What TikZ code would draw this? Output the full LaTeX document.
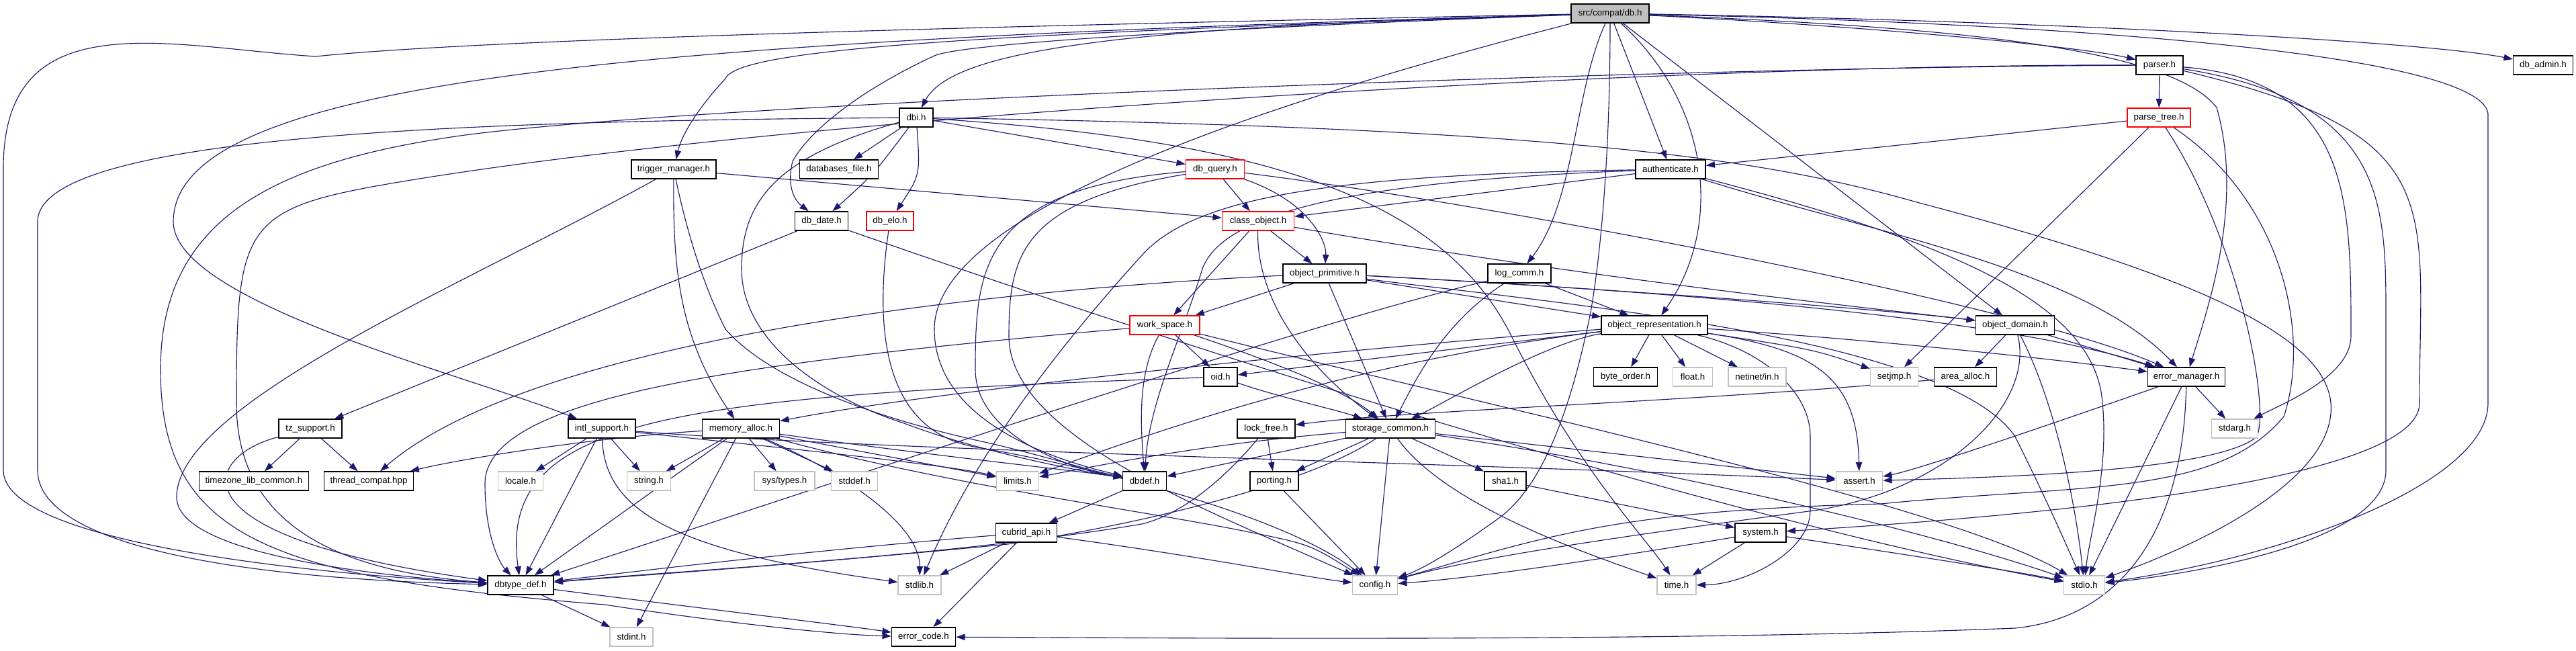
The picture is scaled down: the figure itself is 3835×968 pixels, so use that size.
\documentclass[tikz,border=0pt]{standalone}
\usepackage{fontspec}
\setmainfont{Liberation Sans}
\usetikzlibrary{arrows.meta,backgrounds}
\definecolor{eb}{RGB}{25,25,112}
\definecolor{gb}{RGB}{191,191,191}
\definecolor{rb}{RGB}{255,0,0}
\tikzset{
  nd/.style={draw=black, line width=1pt, fill=white, minimum height=21pt, inner xsep=1pt, inner ysep=0pt, font=\fontsize{10}{12}\selectfont},
  rd/.style={nd, draw=rb},
  gd/.style={nd, draw=gb},
  e/.style={draw=eb, line width=0.85pt, -{Triangle[length=10pt,width=7pt]}},
}
\begin{document}
\begin{tikzpicture}[x=0.75pt,y=-0.75pt]
% nodes
\node[nd, fill=gb, minimum width=87pt] (dbh) at (2397,20) {src/compat/db.h};
\node[nd, minimum width=52.5pt] (parser) at (3215,97) {parser.h};
\node[nd, minimum width=66.75pt] (dbadmin) at (3786,97) {db\_admin.h};
\node[nd, minimum width=37.5pt] (dbi) at (1364,175) {dbi.h};
\node[rd, minimum width=70.5pt] (parsetree) at (3214,175) {parse\_tree.h};
\node[nd, minimum width=94.5pt] (trigger) at (1003,252) {trigger\_manager.h};
\node[nd, minimum width=87.75pt] (dbfile) at (1249,252) {databases\_file.h};
\node[rd, minimum width=65.25pt] (dbquery) at (1809,252) {db\_query.h};
\node[nd, minimum width=78pt] (auth) at (2487,252) {authenticate.h};
\node[nd, minimum width=59.25pt] (dbdate) at (1223,329) {db\_date.h};
\node[rd, minimum width=52.5pt] (dbelo) at (1325,329) {db\_elo.h};
\node[rd, minimum width=80.25pt] (classobj) at (1873,329) {class\_object.h};
\node[nd, minimum width=93pt] (objprim) at (1972,407) {object\_primitive.h};
\node[nd, minimum width=70.5pt] (logcomm) at (2262,407) {log\_comm.h};
\node[rd, minimum width=78pt] (workspace) at (1734,484) {work\_space.h};
\node[nd, minimum width=118.5pt] (objrep) at (2463,484) {object\_representation.h};
\node[nd, minimum width=87.75pt] (objdom) at (3000,484) {object\_domain.h};
\node[nd, minimum width=37.5pt] (oid) at (1817,561) {oid.h};
\node[nd, minimum width=71.25pt] (byteorder) at (2420,561) {byte\_order.h};
\node[gd, minimum width=44.25pt] (float) at (2520,561) {float.h};
\node[gd, minimum width=64.5pt] (netinet) at (2616,561) {netinet/in.h};
\node[gd, minimum width=53.25pt] (setjmp) at (2820,561) {setjmp.h};
\node[nd, minimum width=69.75pt] (areaalloc) at (2926,561) {area\_alloc.h};
\node[nd, minimum width=86.25pt] (errmgr) at (3255,561) {error\_manager.h};
\node[nd, minimum width=70.5pt] (tzsupport) at (462,638) {tz\_support.h};
\node[nd, minimum width=75pt] (intl) at (896,638) {intl\_support.h};
\node[nd, minimum width=86.25pt] (memalloc) at (1103,638) {memory\_alloc.h};
\node[nd, minimum width=64.5pt] (lockfree) at (1885,638) {lock\_free.h};
\node[nd, minimum width=99.75pt] (storage) at (2070,638) {storage\_common.h};
\node[gd, minimum width=51.75pt] (stdarg) at (3327,638) {stdarg.h};
\node[nd, minimum width=122.25pt] (tzlib) at (378,716) {timezone\_lib\_common.h};
\node[nd, minimum width=99.75pt] (threadcompat) at (549,716) {thread\_compat.hpp};
\node[gd, minimum width=50.25pt] (locale) at (775,716) {locale.h};
\node[gd, minimum width=48.75pt] (string) at (966,716) {string.h};
\node[gd, minimum width=67.5pt] (systypes) at (1168,716) {sys/types.h};
\node[gd, minimum width=51.75pt] (stddef) at (1272,716) {stddef.h};
\node[gd, minimum width=47.25pt] (limits) at (1515,716) {limits.h};
\node[nd, minimum width=48.75pt] (dbdef) at (1704,716) {dbdef.h};
\node[nd, minimum width=54pt] (porting) at (1897,716) {porting.h};
\node[nd, minimum width=46.5pt] (sha1) at (2241,716) {sha1.h};
\node[gd, minimum width=51.75pt] (assert) at (2768,716) {assert.h};
\node[nd, minimum width=68.25pt] (cubridapi) at (1528,793) {cubrid\_api.h};
\node[nd, minimum width=57pt] (system) at (2621,793) {system.h};
\node[nd, minimum width=73.5pt] (dbtypedef) at (775,871) {dbtype\_def.h};
\node[gd, minimum width=48pt] (stdlib) at (1369,871) {stdlib.h};
\node[gd, minimum width=50.25pt] (config) at (2047,871) {config.h};
\node[gd, minimum width=43.5pt] (time) at (2496,871) {time.h};
\node[gd, minimum width=45.75pt] (stdio) at (3103,871) {stdio.h};
\node[gd, minimum width=48pt] (stdint) at (940,948) {stdint.h};
\node[nd, minimum width=71.25pt] (errcode) at (1375,948) {error\_code.h};
% ---- edges ----
\begin{scope}[on background layer]
\path[use as bounding box, fill=white] (0,0) rectangle (3835,968);
% db.h
\draw[e] (dbh) .. controls (1700,40) and (1420,70) .. (dbi);
\draw[e] (dbh) .. controls (1500,50) and (1100,70) .. (1080,117) .. controls (1040,160) and (1015,200) .. (trigger);
\draw[e] (dbh) .. controls (1800,42) and (1430,65) .. (1391,83) .. controls (1283,133) and (1206,193) .. (1180,240) .. controls (1170,280) and (1185,300) .. (dbdate);
\draw[e] (dbh) .. controls (1000,60) and (258,110) .. (258,330) .. controls (258,450) and (700,560) .. (intl);
\draw[e] (dbh) .. controls (1400,40) and (700,60) .. (470,84) .. controls (250,70) and (5,0) .. (5,250) -- (5,700) .. controls (5,800) and (400,850) .. (dbtypedef);
\draw[e] (dbh) .. controls (1700,200) and (1391,350) .. (1391,490) .. controls (1391,620) and (1550,680) .. (dbdef);
\draw[e] (dbh) .. controls (2397,250) and (2380,400) .. (2367,470) .. controls (2340,600) and (2300,720) .. (2233,770) .. controls (2150,830) and (2110,850) .. (config);
\draw[e] (dbh) .. controls (2345,130) and (2345,300) .. (logcomm);
\draw[e] (dbh) -- (auth);
\draw[e] (dbh) .. controls (2540,150) and (2570,330) .. (objrep);
\draw[e] (dbh) -- (objdom);
\draw[e] (dbh) .. controls (2900,40) and (3230,70) .. (3300,160) .. controls (3340,300) and (3290,450) .. (errmgr);
\draw[e] (dbh) .. controls (2800,40) and (3100,70) .. (parser);
\draw[e] (dbh) .. controls (3000,30) and (3600,60) .. (dbadmin);
\draw[e] (dbh) .. controls (3300,40) and (3700,100) .. (3704,170) -- (3704,600) .. controls (3704,720) and (3400,830) .. (stdio);
% dbi
\draw[e] (dbi) -- (dbfile);
\draw[e] (dbi) .. controls (1300,260) .. (dbdate);
\draw[e] (dbi) .. controls (1370,260) .. (dbelo);
\draw[e] (dbi) -- (dbquery);
\draw[e] (dbi) .. controls (700,180) and (56,200) .. (56,330) -- (56,700) .. controls (56,800) and (300,860) .. (dbtypedef);
\draw[e] (dbi) .. controls (1155,233) and (1104,300) .. (1104,400) .. controls (1104,520) and (1250,600) .. (1346,630) .. controls (1450,670) and (1600,700) .. (dbdef);
\draw[e] (dbi) .. controls (2300,190) and (2615,233) .. (2850,300) .. controls (3229,400) and (3460,490) .. (3470,600) .. controls (3480,720) and (3250,820) .. (stdio);
\draw[e] (dbi) .. controls (1900,210) and (2150,300) .. (2250,500) .. controls (2350,700) and (2450,800) .. (time);
% parser
\draw[e] (parser) -- (parsetree);
\draw[e] (parser) .. controls (3500,120) and (3500,300) .. (3500,500) .. controls (3500,560) and (3400,600) .. (stdarg);
\draw[e] (parser) .. controls (3550,150) and (3552,300) .. (3552,470) -- (3552,700) .. controls (3552,800) and (3300,850) .. (stdio);
\draw[e] (parser) .. controls (3650,200) and (3602,300) .. (3602,600) .. controls (3602,720) and (3000,770) .. (system);
\draw[e] (parser) .. controls (2500,95) and (1200,170) .. (600,270) .. controls (360,310) and (352,330) .. (352,600) .. controls (352,780) and (500,850) .. (dbtypedef);
\draw[e] (parser) .. controls (2500,100) and (1100,150) .. (700,200) .. controls (400,240) and (239,330) .. (239,550) .. controls (239,800) and (400,860) .. (900,900) .. controls (1100,930) and (1250,945) .. (errcode);
% parse_tree
\draw[e] (parsetree) -- (auth);
\draw[e] (parsetree) -- (setjmp);
\draw[e] (parsetree) .. controls (3330,350) and (3380,600) .. (3360,650) .. controls (3300,700) and (3000,710) .. (assert);
\draw[e] (parsetree) .. controls (3400,300) and (3440,500) .. (3400,620) .. controls (3300,740) and (3100,720) .. (2800,750) .. controls (2400,760) and (2300,800) .. (config);
% trigger
\draw[e] (trigger) -- (classobj);
\draw[e] (trigger) .. controls (1002,400) and (1010,500) .. (memalloc);
\draw[e] (trigger) .. controls (700,420) and (263,600) .. (263,740) .. controls (263,830) and (600,860) .. (dbtypedef);
\draw[e] (trigger) .. controls (1030,380) and (1060,450) .. (1080,490) .. controls (1150,570) and (1320,627) .. (1475,660) .. controls (1560,680) and (1620,700) .. (dbdef);
% db_date, db_elo
\draw[e] (dbdate) -- (tzsupport);
\draw[e] (dbdate) .. controls (2000,600) and (2700,800) .. (stdio);
\draw[e] (dbelo) .. controls (1300,500) and (1320,640) .. (1450,665) .. controls (1600,690) and (1900,760) .. (config);
% db_query
\draw[e] (dbquery) -- (classobj);
\draw[e] (dbquery) .. controls (1950,300) and (1975,360) .. (objprim);
\draw[e] (dbquery) .. controls (1460,280) and (1452,400) .. (1452,550) .. controls (1452,650) and (1600,700) .. (dbdef);
\draw[e] (dbquery) .. controls (1520,300) and (1502,380) .. (1502,500) .. controls (1502,650) and (1800,760) .. (config);
\draw[e] (dbquery) .. controls (2200,300) and (3000,450) .. (errmgr);
% authenticate
\draw[e] (auth) -- (classobj);
\draw[e] (auth) .. controls (2000,260) and (1780,290) .. (1700,380) .. controls (1500,600) and (1420,750) .. (stdlib);
\draw[e] (auth) .. controls (2000,270) and (1820,320) .. (1790,400) .. controls (1760,500) and (1710,600) .. (dbdef);
\draw[e] (auth) .. controls (2800,350) and (3100,400) .. (errmgr);
\draw[e] (auth) .. controls (2900,360) and (3120,450) .. (3130,600) .. controls (3140,700) and (3110,800) .. (stdio);
% class_object
\draw[e] (classobj) -- (objprim);
\draw[e] (classobj) -- (workspace);
\draw[e] (classobj) .. controls (1870,450) and (1950,550) .. (storage);
\draw[e] (classobj) .. controls (2400,420) and (2800,460) .. (objdom);
% object_primitive
\draw[e] (objprim) -- (objrep);
\draw[e] (objprim) -- (workspace);
\draw[e] (objprim) .. controls (2400,430) and (2800,460) .. (objdom);
\draw[e] (objprim) .. controls (2600,440) and (3000,480) .. (errmgr);
\draw[e] (objprim) .. controls (2300,450) and (2900,500) .. (3000,650) .. controls (3050,750) and (3080,820) .. (stdio);
\draw[e] (objprim) .. controls (1500,430) and (800,500) .. (threadcompat);
\draw[e] (objprim) -- (storage);
% log_comm
\draw[e] (logcomm) -- (objrep);
\draw[e] (logcomm) .. controls (2150,480) and (2110,560) .. (storage);
\draw[e] (logcomm) .. controls (1950,480) and (1300,700) .. (dbtypedef);
% work_space
\draw[e] (workspace) -- (oid);
\draw[e] (workspace) .. controls (1900,540) and (2000,580) .. (storage);
\draw[e] (workspace) .. controls (1100,540) and (722,590) .. (722,720) .. controls (722,800) and (745,840) .. (dbtypedef);
\draw[e] (workspace) .. controls (1690,560) and (1700,650) .. (dbdef);
\draw[e] (workspace) .. controls (2200,600) and (2900,750) .. (stdio);
% oid
\draw[e] (oid) .. controls (1900,590) and (1990,610) .. (storage);
\draw[e] (oid) .. controls (1000,590) and (740,620) .. (dbtypedef);
% object_representation
\draw[e] (objrep) -- (oid);
\draw[e] (objrep) .. controls (2300,510) and (2150,600) .. (storage);
\draw[e] (objrep) -- (byteorder);
\draw[e] (objrep) -- (float);
\draw[e] (objrep) -- (netinet);
\draw[e] (objrep) .. controls (2700,520) .. (setjmp);
\draw[e] (objrep) .. controls (2700,520) and (2765,560) .. (assert);
\draw[e] (objrep) .. controls (2850,510) and (3100,540) .. (errmgr);
\draw[e] (objrep) .. controls (2620,520) and (2695,580) .. (2695,650) -- (2695,760) .. controls (2695,820) and (2600,870) .. (time);
\draw[e] (objrep) .. controls (2000,520) and (1400,580) .. (memalloc);
\draw[e] (objrep) .. controls (2000,540) and (1700,650) .. (limits);
% object_domain
\draw[e] (objdom) -- (areaalloc);
\draw[e] (objdom) -- (errmgr);
\draw[e] (objdom) .. controls (3060,600) and (3090,750) .. (stdio);
\draw[e] (objdom) .. controls (3030,600) and (2900,730) .. (2700,760) .. controls (2400,800) and (2200,830) .. (config);
% area_alloc
\draw[e] (areaalloc) .. controls (2500,600) and (2100,610) .. (lockfree);
% error_manager
\draw[e] (errmgr) .. controls (3000,650) and (2850,700) .. (assert);
\draw[e] (errmgr) -- (stdio);
\draw[e] (errmgr) .. controls (3250,800) and (3150,920) .. (3000,935) .. controls (2500,955) and (1800,950) .. (errcode);
\draw[e] (errmgr) -- (stdarg);
% lock_free
\draw[e] (lockfree) -- (porting);
\draw[e] (lockfree) .. controls (1850,680) and (1780,760) .. (1700,780) .. controls (1400,830) and (1000,850) .. (dbtypedef);
% storage_common
\draw[e] (storage) .. controls (1800,660) and (1650,690) .. (limits);
\draw[e] (storage) -- (dbdef);
\draw[e] (storage) -- (porting);
\draw[e] (storage) .. controls (1950,720) and (1700,780) .. (1500,810) .. controls (1200,840) and (900,860) .. (dbtypedef);
\draw[e] (storage) -- (config);
\draw[e] (storage) .. controls (2150,750) and (2350,820) .. (time);
\draw[e] (storage) -- (sha1);
\draw[e] (storage) -- (assert);
\draw[e] (storage) .. controls (2500,700) and (2900,800) .. (stdio);
% porting, sha1, system
\draw[e] (porting) -- (config);
\draw[e] (sha1) -- (system);
\draw[e] (system) .. controls (2400,830) and (2200,860) .. (config);
\draw[e] (system) -- (time);
\draw[e] (system) .. controls (2800,820) and (3000,850) .. (stdio);
% cubrid_api, dbdef
\draw[e] (cubridapi) -- (stdlib);
\draw[e] (cubridapi) -- (errcode);
\draw[e] (cubridapi) .. controls (1200,820) and (950,850) .. (dbtypedef);
\draw[e] (cubridapi) .. controls (1800,830) and (1950,860) .. (config);
\draw[e] (dbdef) -- (cubridapi);
% memory_alloc
\draw[e] (memalloc) .. controls (900,650) and (700,680) .. (threadcompat);
\draw[e] (memalloc) -- (string);
\draw[e] (memalloc) -- (dbtypedef);
\draw[e] (memalloc) -- (stdint);
\draw[e] (memalloc) -- (systypes);
\draw[e] (memalloc) -- (stddef);
\draw[e] (memalloc) -- (limits);
\draw[e] (memalloc) .. controls (1400,680) and (1600,700) .. (dbdef);
\draw[e] (memalloc) .. controls (1250,700) and (1370,780) .. (stdlib);
\draw[e] (memalloc) .. controls (1400,720) and (1700,760) .. (1850,790) .. controls (1950,810) .. (config);
% intl_support
\draw[e] (intl) -- (locale);
\draw[e] (intl) -- (dbtypedef);
\draw[e] (intl) .. controls (900,760) and (1000,820) .. (stdlib);
\draw[e] (intl) -- (string);
\draw[e] (intl) .. controls (1100,660) and (1400,690) .. (limits);
\draw[e] (intl) .. controls (1300,670) and (2200,690) .. (assert);
% tz_support
\draw[e] (tzsupport) -- (tzlib);
\draw[e] (tzsupport) -- (threadcompat);
\draw[e] (tzsupport) .. controls (300,680) and (250,800) .. (dbtypedef);
% dbtype_def
\draw[e] (dbtypedef) -- (stdint);
\draw[e] (dbtypedef) .. controls (1000,900) and (1250,930) .. (errcode);
\end{scope}
\end{tikzpicture}
\end{document}
